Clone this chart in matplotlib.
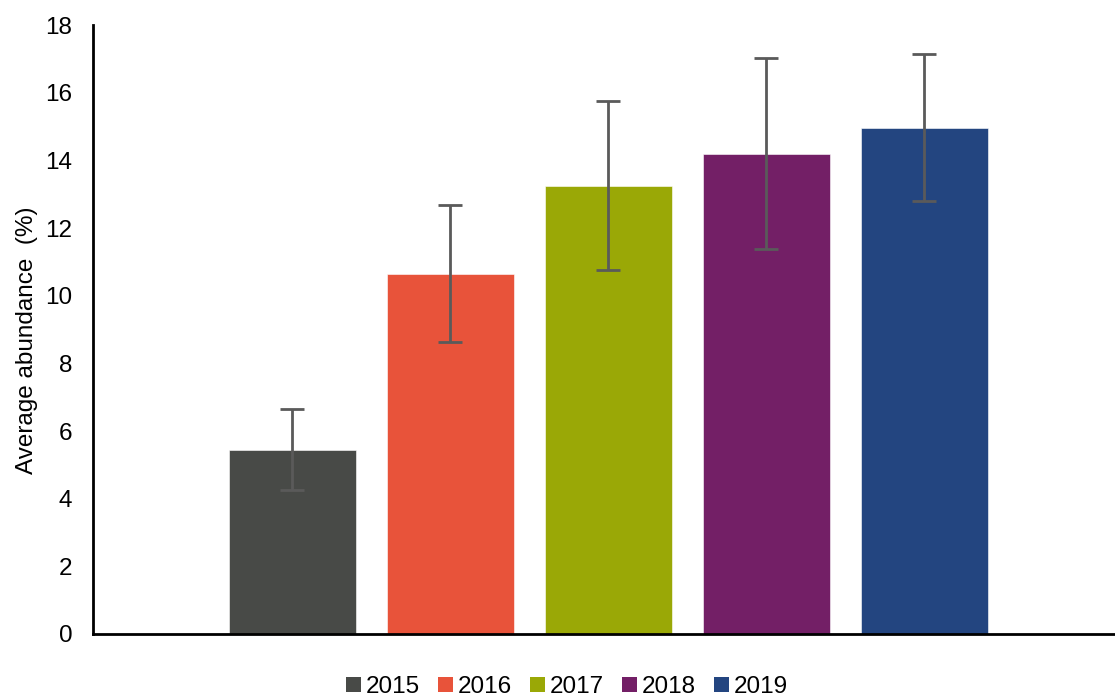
import matplotlib
matplotlib.use("Agg")
import matplotlib.pyplot as plt
from matplotlib.patches import Patch

years = ["2015", "2016", "2017", "2018", "2019"]
values = [5.45, 10.65, 13.25, 14.2, 14.97]
errors = [1.2, 2.02, 2.5, 2.82, 2.17]
colors = ["#484a47", "#e8533a", "#9aa806", "#731f66", "#234580"]
yticks = [0, 2, 4, 6, 8, 10, 12, 14, 16, 18]

plt.rcParams['font.family'] = ['Liberation Sans', 'DejaVu Sans']
FS = 17.5

W, H = 1115, 698
fig = plt.figure(figsize=(W / 100, H / 100), dpi=100)
ax = fig.add_axes([93 / W, (H - 634) / H, 1022 / W, (634 - 25) / H])

x = list(range(len(years)))
ax.bar(x, values, width=127 / 158, color=colors, edgecolor="white", linewidth=0.4, zorder=2)
ax.errorbar(x, values, yerr=errors, fmt="none", ecolor="#5a5a5a", elinewidth=2,
            capsize=8.5, capthick=2, zorder=3)

ax.set_xlim((93 - 292) / 158, (1115 - 292) / 158)
ax.set_ylim(0, 18)
ax.set_yticks(yticks)
ax.set_yticklabels([str(t) for t in yticks], fontsize=FS)
ax.set_xticks([])
ax.tick_params(axis="y", length=0, pad=15)
for s in ["top", "right"]:
    ax.spines[s].set_visible(False)
for s in ["left", "bottom"]:
    ax.spines[s].set_linewidth(2)
    ax.spines[s].set_color("black")

fig.text(27 / W, 1 - 340 / H, "Average abundance  (%)", rotation=90,
         ha="center", va="center", fontsize=FS)

handles = [Patch(facecolor=c, edgecolor="none") for c in colors]
fig.legend(handles, years, loc="center", bbox_to_anchor=(567 / W, 1 - 687 / H),
           ncol=5, frameon=False, fontsize=FS, handlelength=0.62, handleheight=0.62,
           handletextpad=0.2, columnspacing=0.74, borderpad=0)

fig.savefig("out.png", dpi=100)
